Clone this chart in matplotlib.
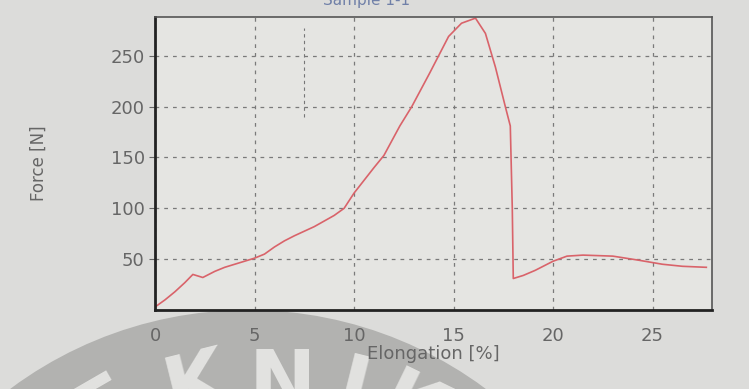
import matplotlib.pyplot as plt
from matplotlib.patches import Circle

# elongation [%] / force [N]
elongation = [0, 0.5, 1.0, 1.5, 1.9, 2.4, 3.0, 3.5, 4.0, 5.0, 5.5, 6.0, 6.5, 7.0, 8.0,
              9.0, 9.5, 10.0, 11.0, 11.5, 12.3, 12.9, 13.8, 14.75, 15.4, 16.1, 16.6,
              17.1, 17.6, 17.85, 17.95, 18.0, 18.5, 19.1, 20.0, 20.7, 21.5, 23.0,
              24.3, 25.5, 26.5, 27.7]
force = [3, 10, 18, 27, 35, 32, 38, 42, 45, 51, 55, 62, 68, 73, 82,
         93, 100, 115, 140, 152, 181, 200, 233, 269, 282, 287, 272,
         239, 200, 181, 100, 31, 34, 39, 48, 53, 54, 53,
         49, 45, 43, 42]

xticks = [0, 5, 10, 15, 20, 25]
yticks = [50, 100, 150, 200, 250]
marker_x = 7.5
marker_y = [190, 277]

fig = plt.figure(figsize=(7.49, 3.89), dpi=100)
fig.patch.set_facecolor('#dcdcda')

# watermark (grey disc + letters) behind the plot, in pixel coords
wm = fig.add_axes([0, 0, 1, 1], zorder=0)
wm.set_xlim(0, 749)
wm.set_ylim(389, 0)
wm.axis('off')
wm.add_patch(Circle((248, 708), 398, color='#b2b2b0', lw=0))
for ch, px, py, rot in [('E', 105, 408, 30), ('K', 197, 386, 14),
                        ('N', 282, 386, 0), ('I', 352, 392, -14),
                        ('K', 410, 412, -26)]:
    wm.text(px, py, ch, color='#e2e2e0', fontsize=58, fontweight='bold',
            ha='center', va='center', rotation=rot)

ax = fig.add_axes([0.207, 0.203, 0.744, 0.753], zorder=1)
ax.set_facecolor('#e5e5e2')

ax.plot(elongation, force, color='#d9636a', lw=1.2)
ax.plot([marker_x, marker_x], marker_y, color='#777777', lw=0.8, ls=(0, (3, 3)))

ax.set_xlim(0, 28)
ax.set_ylim(0, 288)
ax.set_xticks(xticks)
ax.set_yticks(yticks)
ax.grid(True, color='#7a7a7a', ls=(0, (3, 4)), lw=0.9)
ax.tick_params(colors='#666666', labelsize=13, length=4)
ax.tick_params(axis='x', length=0, pad=12)

for side in ['left', 'bottom']:
    ax.spines[side].set_linewidth(2)
    ax.spines[side].set_color('#222222')
for side in ['top', 'right']:
    ax.spines[side].set_linewidth(1.2)
    ax.spines[side].set_color('#555555')

ax.set_xlabel('Elongation [%]', color='#666666', fontsize=13, labelpad=0)
ax.set_ylabel('Force [N]', color='#666666', fontsize=12)
ax.yaxis.set_label_coords(-0.192, 0.5)

fig.text(0.49, 1.0, 'Sample 1-1', color='#7080a8', fontsize=11,
         ha='center', va='center')

fig.savefig('out.png', dpi=100, facecolor=fig.get_facecolor())
